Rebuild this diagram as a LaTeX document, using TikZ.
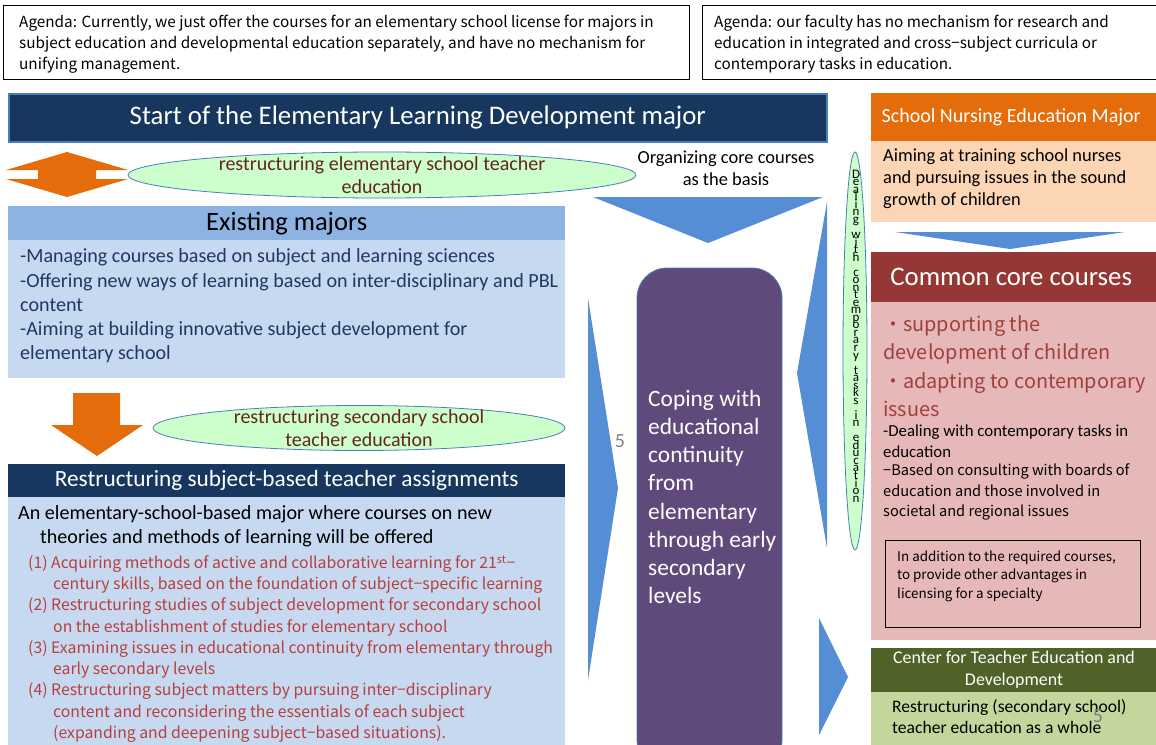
\documentclass[tikz,border=0pt]{standalone}
\usepackage{fontspec}
\setmainfont{Carlito}
\newfontfamily\jpfont{Noto Sans CJK JP}
\usepackage{tikz}
\usetikzlibrary{positioning, shapes.geometric}
\definecolor{navy}{HTML}{17375E}
\definecolor{edgeblue}{HTML}{4A7EBB}
\definecolor{orangebar}{HTML}{E46C0A}
\definecolor{peach}{HTML}{FCD5B5}
\definecolor{mint}{HTML}{CCFFCC}
\definecolor{maroon}{HTML}{632523}
\definecolor{skyhead}{HTML}{8DB3E2}
\definecolor{skybody}{HTML}{C6D9F1}
\definecolor{skytext}{HTML}{1F3864}
\definecolor{arrowblue}{HTML}{558ED5}
\definecolor{plum}{HTML}{604A7B}
\definecolor{brick}{HTML}{953735}
\definecolor{rose}{HTML}{E6B9B8}
\definecolor{rosetext}{HTML}{A0403E}
\definecolor{itemred}{HTML}{B7403C}
\definecolor{olive}{HTML}{4F6228}
\definecolor{sage}{HTML}{C3D69B}
\newcommand\stackfont{\fontsize{13}{7.53}\selectfont\lineskiplimit=-20pt\relax}
\tikzset{
agenda/.style = { rectangle, draw = black, line width = 1.3pt, fill = white, anchor = north west, inner sep = 0pt },
bar/.style = { rectangle, draw = none, anchor = north west, inner sep = 0pt },
oval/.style = { ellipse, draw = edgeblue, fill = mint, line width = 0.8pt, inner sep = 0pt },
txt/.style = { inner sep = 0pt, align = left, anchor = west },
ctxt/.style = { inner sep = 0pt, align = center },
blockarrow/.style = { fill = arrowblue, draw = none },
}

\begin{document}
\begin{tikzpicture}[x = 1pt, y = -1pt]
    \useasboundingbox[fill = white] (0, 0) rectangle (1156, 744);
    % agendas
    \node[agenda, minimum width = 686, minimum height = 74] (agendaL) at (3, 5) {};
    \node[agenda, minimum width = 460, minimum height = 74] (agendaR) at (702, 5) {};
    \node[txt, font = \jpfont\fontsize{15.3}{21}\selectfont] (agendaLtxt) at (19, 44) {Agenda: Currently, we just offer the courses for an elementary school license for majors in\\subject education and developmental education separately, and have no mechanism for\\unifying management.};
    \node[txt, font = \jpfont\fontsize{15.3}{21}\selectfont] (agendaRtxt) at (714, 44) {Agenda: our faculty has no mechanism for research and\\education in integrated and cross−subject curricula or\\contemporary tasks in education.};
    % title and nursing major
    \node[bar, draw = edgeblue, line width = 1.5pt, fill = navy, minimum width = 818, minimum height = 48, text = white, font = \fontsize{26.8}{30}\selectfont] (start) at (8, 93) {Start of the Elementary Learning Development major};
    \node[bar, fill = orangebar, minimum width = 290, minimum height = 48, text = white, font = \fontsize{20}{24}\selectfont] (nursehead) at (871, 93) {\hspace*{-5pt}School Nursing Education Major\hspace*{5pt}};
    \node[bar, fill = peach, minimum width = 290, minimum height = 81] (nursebody) at (871, 141) {};
    \node[txt, font = \fontsize{18.4}{22}\selectfont] (nursetxt) at (883, 179) {Aiming at training school nurses\\and pursuing issues in the sound\\growth of children};
    % orange up-down arrow and first oval
    \fill[orangebar] (67, 152) -- (128, 170) -- (96, 170) -- (96, 179) -- (128, 179) -- (67, 197) -- (6, 179) -- (38, 179) -- (38, 170) -- (6, 170) -- cycle;
    \node[oval, minimum width = 508, minimum height = 46] (ovalE) at (382, 175) {};
    \node[ctxt, text = maroon, font = \fontsize{20}{23}\selectfont] (ovalEtxt) at (ovalE) {restructuring elementary school teacher\\education};
    \node[ctxt, font = \fontsize{18.4}{22}\selectfont] (organize) at (726, 168) {Organizing core courses\\as the basis};
    % existing majors
    \node[bar, fill = skyhead, minimum width = 557, minimum height = 34, font = \fontsize{26.5}{28}\selectfont] (exhead) at (8, 206) {Existing majors};
    \node[bar, fill = skybody, minimum width = 557, minimum height = 138] (exbody) at (8, 240) {};
    \node[txt, text = skytext, font = \fontsize{20.1}{24.3}\selectfont] (extxt) at (20, 306) {-Managing courses based on subject and learning sciences\\-Offering new ways of learning based on inter-disciplinary and PBL\\content\\-Aiming at building innovative subject development for\\elementary school};
    % orange down arrow and second oval
    \fill[orangebar] (73, 393) -- (120, 393) -- (120, 425) -- (143, 425) -- (97, 456) -- (51, 425) -- (73, 425) -- cycle;
    \node[oval, minimum width = 412, minimum height = 45] (ovalS) at (359, 428) {};
    \node[ctxt, text = maroon, font = \fontsize{20}{23}\selectfont] (ovalStxt) at (ovalS) {restructuring secondary school\\teacher education};
    % restructuring subject-based assignments
    \node[bar, fill = navy, minimum width = 557, minimum height = 33, text = white, font = \fontsize{23.3}{26}\selectfont] (rshead) at (8, 464) {Restructuring subject-based teacher assignments};
    \node[bar, fill = skybody, minimum width = 557, minimum height = 250] (rsbody) at (8, 497) {};
    \node[txt, font = \fontsize{20.1}{24}\selectfont] (rstxt) at (18, 526) {An elementary-school-based major where courses on new\\\hspace*{22pt}theories and methods of learning will be offered};
    \node[txt, text = itemred, font = \jpfont\fontsize{15.8}{21.25}\selectfont] (rsitems) at (28, 649) {(1) Acquiring methods of active and collaborative learning for 21\textsuperscript{st}−\\
        \hspace*{25pt}century skills, based on the foundation of subject−specific learning\\
        (2) Restructuring studies of subject development for secondary school\\
        \hspace*{25pt}on the establishment of studies for elementary school\\
        (3) Examining issues in educational continuity from elementary through\\
        \hspace*{25pt}early secondary levels\\
        (4) Restructuring subject matters by pursuing inter−disciplinary\\
        \hspace*{25pt}content and reconsidering the essentials of each subject\\
        \hspace*{25pt}(expanding and deepening subject−based situations).};
    % blue block arrows
    \fill[blockarrow] (593, 197) -- (823, 197) -- (708, 243) -- cycle;
    \fill[blockarrow] (827, 202) -- (797, 373) -- (827, 548) -- cycle;
    \fill[blockarrow] (588, 298) -- (618, 488) -- (588, 680) -- cycle;
    \fill[blockarrow] (819, 618) -- (848, 677) -- (819, 735) -- cycle;
    \fill[blockarrow] (895, 232) -- (1125, 232) -- (1010, 249) -- cycle;
    \node[ctxt, text = black!50, font = \fontsize{20}{24}\selectfont] (pageL) at (620, 441) {5};
    % centre column
    \draw[fill = plum, draw = edgeblue, line width = 0.8pt, rounded corners = 30pt] (637, 268) rectangle (782, 770);
    \node[txt, text = white, font = \fontsize{23.4}{28.2}\selectfont] (coping) at (648, 497) {Coping with\\educational\\continuity\\from\\elementary\\through early\\secondary\\levels};
    \node[oval, minimum width = 24, minimum height = 398] (ovalC) at (855, 351) {};
    \node[ctxt, font = \stackfont] (ovalCtxt) at (856, 336) {D\\e\\a\\l\\i\\n\\g\\~\\w\\i\\t\\h\\~\\c\\o\\n\\t\\e\\m\\p\\o\\r\\a\\r\\y\\~\\t\\a\\s\\k\\s\\~\\i\\n\\~\\e\\d\\u\\c\\a\\t\\i\\o\\n};
    % common core courses
    \node[bar, fill = brick, minimum width = 290, minimum height = 50, text = white, font = \fontsize{26.8}{30}\selectfont] (cchead) at (871, 252) {\hspace*{-5pt}Common core courses\hspace*{5pt}};
    \node[bar, fill = rose, minimum width = 290, minimum height = 338] (ccbody) at (871, 302) {};
    \node[txt, text = rosetext, font = \jpfont\fontsize{19.9}{28.5}\selectfont] (ccbig) at (883, 366) {・supporting the\\development of children\\・adapting to contemporary\\issues};
    \node[txt, font = \fontsize{16.8}{20.5}\selectfont] (ccdeal) at (883, 441) {-Dealing with contemporary tasks in\\education};
    \node[txt, font = \jpfont\fontsize{14.6}{20.5}\selectfont] (ccbased) at (883, 492) {−Based on consulting with boards of\\education and those involved in\\societal and regional issues};
    \node[bar, draw = black, line width = 1pt, minimum width = 255, minimum height = 87] (ccnote) at (885, 540) {};
    \node[txt, font = \jpfont\fontsize{13.4}{18.5}\selectfont] (ccnotetxt) at (897, 576) {In addition to the required courses,\\to provide other advantages in\\licensing for a specialty};
    % center for teacher education
    \node[bar, fill = olive, minimum width = 290, minimum height = 44] (cthead) at (871, 648) {};
    \node[ctxt, text = white, font = \fontsize{17.9}{22}\selectfont] (ctheadtxt) at (1014, 670) {Center for Teacher Education and\\Development};
    \node[bar, fill = sage, minimum width = 290, minimum height = 55] (ctbody) at (871, 692) {};
    \node[txt, font = \fontsize{17.6}{21}\selectfont] (cttxt) at (892, 716.5) {Restructuring (secondary school)\\teacher education as a whole};
    \node[ctxt, text = black!50, font = \fontsize{20}{24}\selectfont] (pageR) at (1098, 716) {5};
\end{tikzpicture}
\end{document}
